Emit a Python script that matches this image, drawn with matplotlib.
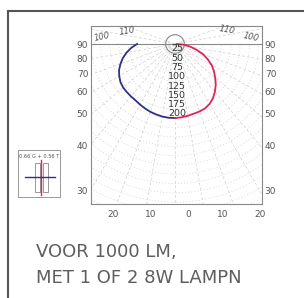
import numpy as np
import matplotlib
matplotlib.use("Agg")
import matplotlib.pyplot as plt
from matplotlib.patches import Circle, Rectangle
from matplotlib.lines import Line2D

# ---------------------------------------------------------------------------
# Data (cd per 1000 lm, angle gamma from nadir in degrees)
# ---------------------------------------------------------------------------
GAMMA = [0, 5, 10, 15, 20, 25, 30, 35, 40, 45, 50, 55, 60, 65, 70, 75, 80, 85, 90]
I_BLUE = [199, 199, 198, 196, 194, 191, 188, 185, 184, 183, 182, 179, 173, 166,
          156, 145, 132, 118, 102]
I_RED = [199, 198, 196, 194, 193, 191, 186, 178, 167, 155, 141, 128, 114, 97,
         80, 60, 42, 24, 5]

RING_LABELS = [25, 50, 75, 100, 125, 150, 175, 200]
LEFT_TICKS = [0, -38, -78, -129, -188, -272, -395]
LEFT_LABELS = ["90", "80", "70", "60", "50", "40", "30"]
BOTTOM_TICKS = [-167, -65, 35, 129, 228]
BOTTOM_LABELS = ["20", "10", "0", "10", "20"]
TOP_LABELS = [("100", -196, 19, 12), ("110", -129, 35, 10),
              ("110", 140, 37, -10), ("100", 204, 19, -12)]

BLUE = "#2e2f86"
RED = "#e0245a"
GRID = "#cfcfcf"
TXT = "#555555"

W, H = 304, 298
fig = plt.figure(figsize=(W / 100, H / 100), dpi=100)
fig.patch.set_facecolor("white")

# ---------------------------------------------------------------------------
# Main diagram (units: cd, origin at luminaire)
# ---------------------------------------------------------------------------
x0, x1, y0, y1 = 91, 262, 26, 204
ax = fig.add_axes([x0 / W, 1 - y1 / H, (x1 - x0) / W, (y1 - y0) / H])
k = 0.372  # px per cd
cx, cy = 175, 44
ax.set_xlim((x0 - cx) / k, (x1 - cx) / k)
ax.set_ylim(-(y1 - cy) / k, (cy - y0) / k)

# concentric rings
t = np.linspace(-np.pi, 0, 200)
for r in range(50, 500, 25):
    ax.plot(r * np.cos(t), r * np.sin(t), color=GRID, lw=0.5,
            ls=(0, (1.5, 3)), zorder=1)
# radial lines
for a in range(-110, 111, 10):
    ar = np.radians(a)
    ax.plot([0, 700 * np.sin(ar)], [0, -700 * np.cos(ar)], color=GRID,
            lw=0.5, ls=(0, (4, 3)), zorder=1)

ax.axhline(0, color="#888888", lw=0.8, zorder=2)
ax.add_patch(Circle((0, 0), 25, fill=False, ec="#888888", lw=0.8, zorder=2))

g = np.radians(GAMMA)
ax.plot(-np.array(I_BLUE) * np.sin(g), -np.array(I_BLUE) * np.cos(g),
        color=BLUE, lw=1.3, zorder=4)
ax.plot(np.array(I_RED) * np.sin(g), -np.array(I_RED) * np.cos(g),
        color=RED, lw=1.3, zorder=4)

for v in RING_LABELS:
    ax.text(6, -(v - 12), str(v), ha="center", va="center", fontsize=6.8,
            color="#333333", zorder=5)

for lab, x, y, rot in TOP_LABELS:
    ax.text(x, y, lab, ha="center", va="center", fontsize=6, color=TXT,
            style="italic", rotation=rot)

ax.set_yticks(LEFT_TICKS)
ax.set_yticklabels(LEFT_LABELS)
ax.set_xticks(BOTTOM_TICKS)
ax.set_xticklabels(BOTTOM_LABELS)
ax.tick_params(axis="both", length=0, labelsize=6.5, labelcolor=TXT)
ax.tick_params(axis="y", pad=2, labelright=True)
ax.tick_params(axis="x", pad=4)
for s in ax.spines.values():
    s.set_color("#888888")
    s.set_linewidth(0.8)

# ---------------------------------------------------------------------------
# Small legend box
# ---------------------------------------------------------------------------
lx0, lx1, ly0, ly1 = 18, 60, 150, 197
lg = fig.add_axes([lx0 / W, 1 - ly1 / H, (lx1 - lx0) / W, (ly1 - ly0) / H])
lg.set_xlim(0, 1)
lg.set_ylim(0, 1)
lg.set_xticks([])
lg.set_yticks([])
for s in lg.spines.values():
    s.set_color("#999999")
    s.set_linewidth(0.7)
lg.text(0.5, 0.86, "0.66 G + 0.56 T", ha="center", va="center",
        fontsize=3.6, color=TXT)
lg.add_patch(Rectangle((0.40, 0.10), 0.12, 0.62, fill=False, ec="#888888", lw=0.6))
lg.add_patch(Rectangle((0.59, 0.10), 0.12, 0.62, fill=False, ec="#888888", lw=0.6))
lg.plot([0.555, 0.555], [0.05, 0.79], color=RED, lw=1.0)
lg.plot([0.16, 0.88], [0.42, 0.42], color=BLUE, lw=1.0)

# ---------------------------------------------------------------------------
# Frame and caption
# ---------------------------------------------------------------------------
fig.add_artist(Line2D([8 / W, 1], [1 - 11 / H, 1 - 11 / H], color="#555555", lw=1.5))
fig.add_artist(Line2D([8 / W, 8 / W], [0, 1 - 11 / H], color="#555555", lw=1.5))

fig.text(36 / W, 1 - 257 / H, "VOOR 1000 LM,", fontsize=13, color="#5e5e5e",
         family="DejaVu Sans", va="baseline")
fig.text(36 / W, 1 - 283 / H, "MET 1 OF 2 8W LAMPN", fontsize=13, color="#5e5e5e",
         family="DejaVu Sans", va="baseline")

fig.savefig("out.png", dpi=100)
